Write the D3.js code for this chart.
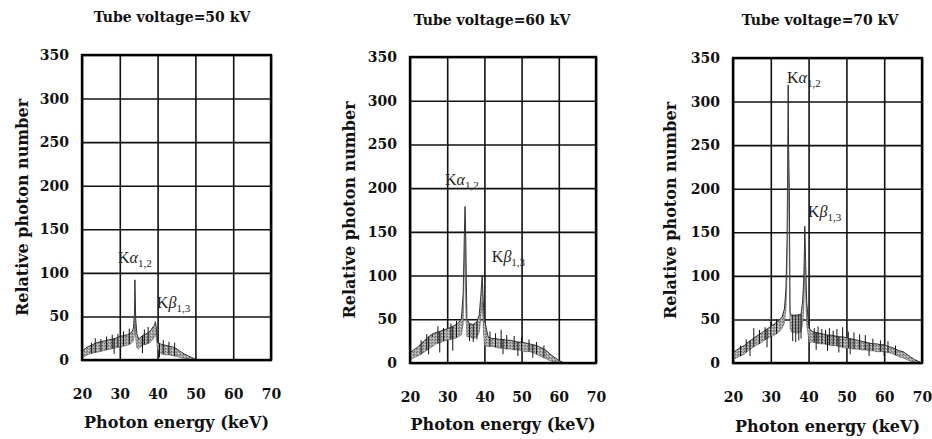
<!DOCTYPE html>
<html><head><meta charset="utf-8">
<script src="https://cdn.jsdelivr.net/npm/d3@7"></script>
<style>body{margin:0;background:#fff}svg{display:block}</style>
</head><body>
<svg id="chart" width="932" height="439"></svg>
<script>
// ---------- data ----------
const xTicks = [20, 30, 40, 50, 60, 70];
const yTicks = [0, 50, 100, 150, 200, 250, 300, 350];
const titles = ["Tube voltage=50 kV", "Tube voltage=60 kV", "Tube voltage=70 kV"];
const xLabel = "Photon energy (keV)";
const yLabel = "Relative photon number";

// 50 kV
const energy50 = [20,21,22,23,24,25,26,27,28,29,30,31,32,33,33.6,33.9,34.0,34.2,34.5,35.0,35.5,36,37,38,38.8,39.2,39.4,39.7,40.0,41,42,43,44,45,46,47,48,49,50];
const upper50  = [9,14,16,18,20,21,22,23,24,25,27,28,29,31,36,55,92,48,30,24,26,28,30,33,38,40,44,36,20,18,17,16,15,13,10,7,5,3,1];
const lower50  = [2,5,7,8,9,10,11,12,13,14,15,16,17,19,22,30,40,26,14,13,15,17,18,20,24,28,30,24,12,7,6,6,5,4,3,2,1,0,0];
const spikes50 = [[22.5,20],[23.5,25],[25,24],[26.5,27],[28,29],[29.5,30],[31,33],[32.5,36],[36.5,35],[37.5,38],[41.5,23],[43,21],[44.5,20],[30.2,4],[28.5,7],[36,8],[40.5,3]];

// 60 kV
const energy60 = [20,21,22,23,24,25,26,27,28,29,30,31,32,33,33.8,34.3,34.6,34.8,35.0,35.3,36,37,38,38.6,39.0,39.4,39.7,40.0,41,42,43,44,45,46,47,48,49,50,51,52,53,54,55,56,57,58,59,60,61];
const upper60  = [12,15,18,22,26,30,33,35,36,38,39,41,43,46,50,80,145,179,140,50,45,44,47,55,75,100,70,50,30,28,28,27,27,26,26,25,24,24,23,22,21,20,18,16,13,9,6,3,1];
const lower60  = [3,6,8,10,13,16,19,22,23,25,26,27,28,30,32,45,110,130,60,30,30,28,30,35,50,70,40,20,19,19,18,17,17,16,16,15,15,14,13,13,12,10,8,6,4,2,1,0,0];
const spikes60 = [[23,26],[24.5,33],[26,30],[27.5,42],[29,40],[31,45],[32.5,48],[36,25],[37,24],[38,27],[41.5,36],[43,34],[44.5,38],[46,32],[48,31],[50,30],[52,27],[54,24],[56,20],[25,10],[28,12],[31.5,14],[45,10],[49,8],[53,6]];

// 70 kV
const energy70 = [20,21,22,23,24,25,26,27,28,29,30,31,32,33,33.6,34.0,34.3,34.5,34.6,34.7,34.9,35.1,35.4,36,37,38,38.4,38.7,38.9,39.0,39.2,39.5,39.8,40.1,41,42,43,44,45,46,47,48,49,50,51,52,53,54,55,56,57,58,59,60,61,62,63,64,65,66,67,68,69,70];
const upper70  = [12,15,18,20,24,27,30,33,36,39,42,45,48,53,62,85,140,250,319,250,200,58,55,55,55,56,70,95,130,157,120,70,55,40,36,35,34,33,32,32,31,30,30,29,28,27,26,25,24,23,22,22,21,21,19,18,16,14,13,10,7,4,2,0];
const lower70  = [4,6,8,10,14,17,20,22,25,28,30,32,35,40,46,62,100,190,230,200,120,40,36,35,34,36,45,60,90,110,80,45,35,24,24,23,22,22,21,20,20,19,18,17,17,16,16,15,15,14,14,13,13,13,12,11,9,7,6,4,2,1,0,0];
const spikes70 = [[22,20],[23.5,27],[25.5,40],[27,38],[28.5,41],[30,47],[31.5,50],[35.8,25],[36.6,24],[37.4,26],[38,28],[41.5,40],[42.5,42],[43.5,39],[44.5,38],[45.5,40],[46.5,37],[47.5,39],[49,41],[50.5,36],[52,35],[53.5,33],[55,32],[57,28],[59,26],[61,25],[63,20],[24.5,8],[29,18],[42,15],[45,14],[48,12],[51,10],[56,8],[60,8]];

const series = [
  {energy: energy50, upper: upper50, lower: lower50, spikes: spikes50},
  {energy: energy60, upper: upper60, lower: lower60, spikes: spikes60},
  {energy: energy70, upper: upper70, lower: lower70, spikes: spikes70}
];
// peak annotations: [energy, value] anchor of label
const kAlphaAt = [[29.5,111],[29.4,204],[34.3,321]];
const kBetaAt  = [[39.8,60],[42.0,116],[39.8,168]];

// ---------- layout ----------
const layout = [
  {left:82, right:271, top:55, bottom:360, titleX:172, titleY:22, yLabX:22, xLabY:428},
  {left:410, right:596, top:57, bottom:363, titleX:492, titleY:25, yLabX:349, xLabY:430},
  {left:733, right:922, top:58, bottom:363, titleX:820, titleY:25, yLabX:670, xLabY:432}
];

const svg = d3.select("#chart");
svg.append("rect").attr("width",932).attr("height",439).attr("fill","#fff");

const defs = svg.append("defs");
const pat = defs.append("pattern").attr("id","dither").attr("patternUnits","userSpaceOnUse")
  .attr("width",3).attr("height",3);
pat.append("rect").attr("width",3).attr("height",3).attr("fill","#a8a8a8");
pat.append("rect").attr("x",0).attr("y",0).attr("width",1).attr("height",1).attr("fill","#666");
pat.append("rect").attr("x",2).attr("y",1).attr("width",1).attr("height",1).attr("fill","#777");
pat.append("rect").attr("x",1).attr("y",2).attr("width",1).attr("height",1).attr("fill","#d0d0d0");

const serifBold = "'DejaVu Serif', 'Liberation Serif', serif";

layout.forEach((L, i) => {
  const s = series[i];
  const x = d3.scaleLinear().domain([20,70]).range([L.left, L.right]);
  const y = d3.scaleLinear().domain([0,350]).range([L.bottom, L.top]);
  const g = svg.append("g");

  // grid
  const gx = g.append("g").attr("transform", `translate(0,${L.bottom})`)
    .call(d3.axisBottom(x).tickValues(xTicks).tickSize(-(L.bottom-L.top)).tickFormat(""));
  const gy = g.append("g").attr("transform", `translate(${L.left},0)`)
    .call(d3.axisLeft(y).tickValues(yTicks).tickSize(-(L.right-L.left)).tickFormat(""));
  [gx, gy].forEach(a => {
    a.select(".domain").remove();
    a.selectAll("line").attr("stroke","#111").attr("stroke-width",1.6);
  });

  // band
  const area = d3.area().x((d,j)=>x(s.energy[j])).y0((d,j)=>y(s.lower[j])).y1((d,j)=>y(s.upper[j]));
  g.append("path").datum(s.upper).attr("d", area).attr("fill","url(#dither)").attr("stroke","none");
  const lineU = d3.line().x((d,j)=>x(s.energy[j])).y(d=>y(d));
  g.append("path").datum(s.upper).attr("d", lineU).attr("fill","none").attr("stroke","#222").attr("stroke-width",0.9);
  g.append("path").datum(s.lower).attr("d", lineU).attr("fill","none").attr("stroke","#555").attr("stroke-width",0.6);

  // noise spikes
  const interp = (arr, e) => {
    const k = d3.bisectLeft(s.energy, e);
    if (k <= 0) return arr[0];
    const e0 = s.energy[k-1], e1 = s.energy[k];
    const t = (e - e0) / (e1 - e0);
    return arr[k-1] + t * (arr[k] - arr[k-1]);
  };
  g.selectAll("line.spike").data(s.spikes).join("line").attr("class","spike")
    .attr("x1", d=>x(d[0])).attr("x2", d=>x(d[0]))
    .attr("y1", d=> y(d[1] > interp(s.upper,d[0]) ? interp(s.lower,d[0]) : interp(s.upper,d[0])))
    .attr("y2", d=>y(d[1]))
    .attr("stroke","#111").attr("stroke-width",1);

  // frame
  g.append("rect").attr("x",L.left).attr("y",L.top)
    .attr("width",L.right-L.left).attr("height",L.bottom-L.top)
    .attr("fill","none").attr("stroke","#000").attr("stroke-width",2.4);

  // tick labels
  const ax = g.append("g").attr("transform", `translate(0,${L.bottom})`)
    .call(d3.axisBottom(x).tickValues(xTicks).tickSize(0).tickPadding(29));
  const ay = g.append("g").attr("transform", `translate(${L.left},0)`)
    .call(d3.axisLeft(y).tickValues(yTicks).tickSize(0).tickPadding(13));
  [ax, ay].forEach(a => {
    a.select(".domain").remove();
    a.selectAll("text").attr("font-family", serifBold).attr("font-weight","bold")
      .attr("font-size",14).attr("fill","#111");
  });

  // title
  g.append("text").attr("x",L.titleX).attr("y",L.titleY).attr("text-anchor","middle")
    .attr("font-family",serifBold).attr("font-weight","bold").attr("font-size",14)
    .attr("fill","#111").text(titles[i]);
  // axis labels
  g.append("text").attr("x",(L.left+L.right)/2).attr("y",L.xLabY).attr("text-anchor","middle")
    .attr("font-family",serifBold).attr("font-weight","bold").attr("font-size",16)
    .attr("fill","#111").text(xLabel);
  g.append("text").attr("transform",`translate(${L.yLabX},${(L.top+L.bottom)/2}) rotate(-90)`)
    .attr("text-anchor","middle").attr("dy","0.35em")
    .attr("font-family",serifBold).attr("font-weight","bold").attr("font-size",16)
    .attr("fill","#111").text(yLabel);

  // peak labels
  const addK = (pos, greek, sub) => {
    const t = g.append("text").attr("x", x(pos[0])).attr("y", y(pos[1]))
      .attr("font-family","'Liberation Serif', 'DejaVu Serif', serif").attr("font-size",16).attr("fill","#222");
    t.append("tspan").text("K");
    t.append("tspan").attr("font-style","italic").text(greek);
    t.append("tspan").attr("font-size",11).attr("dy",4).text(sub);
  };
  addK(kAlphaAt[i], "α", "1,2");
  addK(kBetaAt[i], "β", "1,3");
});
</script>
</body></html>
